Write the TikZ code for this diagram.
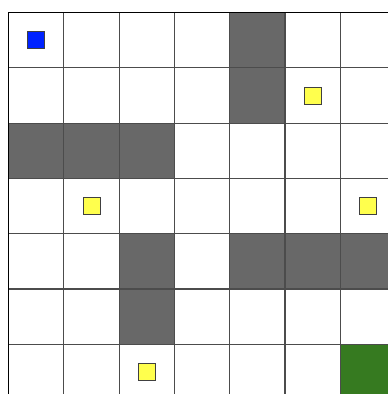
\documentclass[tikz,border=0pt]{standalone}
\begin{document}
\begin{tikzpicture}[x=1pt,y=-1pt,
  wall/.style={fill=wallgray},
  gridline/.style={draw=black!70,line width=1.1pt},
  token/.style={draw=black!75,line width=0.8pt,minimum size=17pt,inner sep=0pt,outer sep=0pt}]
\definecolor{wallgray}{HTML}{686868}
\definecolor{agentblue}{HTML}{0022FF}
\definecolor{coinyellow}{HTML}{FFFF4D}
\definecolor{goalgreen}{HTML}{367A20}
\useasboundingbox (0,0) rectangle (388,394);
\clip (0,0) rectangle (388,394);
\fill[white] (0,0) rectangle (388,394);
\def\cs{55.3}
\def\xo{8.5}
\def\yo{12.5}
% walls
\foreach \r/\c in {0/4,1/4,2/0,2/1,2/2,4/2,4/4,4/5,4/6,5/2}{
  \fill[wallgray] ({\xo+\c*\cs},{\yo+\r*\cs}) rectangle ++(\cs,\cs);
}
% goal
\fill[goalgreen] ({\xo+6*\cs},{\yo+6*\cs}) rectangle ++(\cs,\cs);
% grid
\foreach \k in {0,...,7}{
  \draw[gridline] ({\xo+\k*\cs},\yo) -- ({\xo+\k*\cs},{\yo+7*\cs});
  \draw[gridline] (\xo,{\yo+\k*\cs}) -- ({\xo+7*\cs},{\yo+\k*\cs});
}
\draw[black,line width=1.2pt] (\xo,{\yo+7*\cs}) -- (\xo,\yo) -- ({\xo+7*\cs},\yo);
% agent and coins
\node[token,fill=agentblue] (agent) at ({\xo+0.5*\cs},{\yo+0.5*\cs}) {};
\node[token,fill=coinyellow] (c1) at ({\xo+5.5*\cs},{\yo+1.5*\cs}) {};
\node[token,fill=coinyellow] (c2) at ({\xo+1.5*\cs},{\yo+3.5*\cs}) {};
\node[token,fill=coinyellow] (c3) at ({\xo+6.5*\cs},{\yo+3.5*\cs}) {};
\node[token,fill=coinyellow] (c4) at ({\xo+2.5*\cs},{\yo+6.5*\cs}) {};
\end{tikzpicture}
\end{document}
